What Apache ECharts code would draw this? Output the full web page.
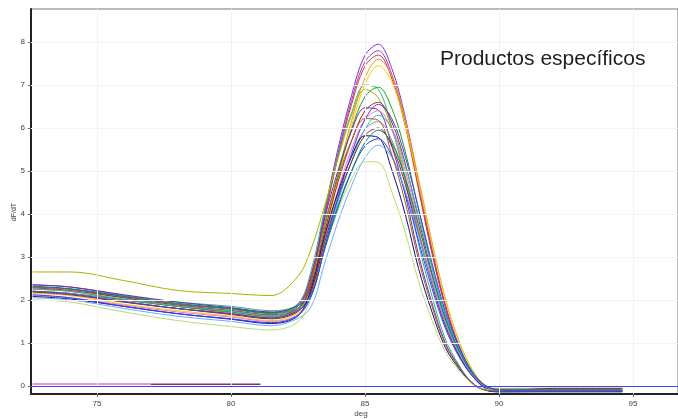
<!DOCTYPE html>
<html>
<head>
<meta charset="utf-8">
<script src="https://cdn.jsdelivr.net/npm/echarts@6/dist/echarts.min.js"></script>
<style>html,body{margin:0;padding:0;background:#fff;}#c{width:678px;height:419px;}</style>
</head>
<body>
<div id="c"></div>
<script>
var temps = [72.6, 74, 76, 78, 80, 81.5, 82.5, 83, 83.5, 84, 84.5, 85, 85.5, 86, 86.5, 87, 87.5, 88, 88.5, 89, 89.5, 90, 92, 94.6];
var xTicks = [75, 80, 85, 90, 95];
var yTicks = [0, 1, 2, 3, 4, 5, 6, 7, 8];

var s1 = [2.35, 2.3, 2.1, 1.9, 1.8, 1.7, 1.86, 2.56, 4.07, 5.53, 6.76, 7.69, 7.95, 7.39, 6.26, 4.73, 3.19, 1.89, 0.95, 0.32, -0.03, -0.1, -0.11, -0.12];
var s2 = [2.3, 2.25, 2.05, 1.85, 1.75, 1.65, 1.81, 2.49, 3.98, 5.42, 6.64, 7.54, 7.8, 7.25, 6.14, 4.64, 3.13, 1.85, 0.94, 0.31, -0.04, -0.08, -0.09, -0.09];
var s3 = [2.25, 2.2, 2.0, 1.85, 1.7, 1.6, 1.76, 2.44, 3.92, 5.34, 6.55, 7.44, 7.7, 7.16, 6.06, 4.57, 3.08, 1.83, 0.92, 0.31, -0.05, -0.12, -0.1, -0.1];
var s4 = [2.2, 2.15, 1.95, 1.8, 1.7, 1.6, 1.76, 2.18, 3.52, 4.93, 6.17, 7.17, 7.6, 7.22, 6.21, 4.82, 3.35, 2.03, 1.06, 0.38, 0.0, -0.1, -0.08, -0.08];
var s5 = [2.15, 2.1, 1.9, 1.75, 1.62, 1.52, 1.69, 2.11, 3.43, 4.82, 6.04, 7.02, 7.45, 7.08, 6.08, 4.72, 3.28, 1.99, 1.04, 0.37, 0.0, -0.06, -0.05, -0.05];
var s6 = [2.3, 2.25, 2.1, 1.95, 1.85, 1.75, 1.91, 2.7, 4.11, 5.34, 6.35, 7.0, 6.9, 6.02, 4.8, 3.3, 2.09, 1.09, 0.49, 0.07, -0.1, -0.12, -0.12, -0.12];
var s7 = [2.2, 2.15, 2.0, 1.85, 1.72, 1.62, 1.79, 2.37, 3.7, 4.94, 5.97, 6.73, 6.95, 6.46, 5.46, 4.11, 2.77, 1.64, 0.83, 0.28, -0.05, -0.1, -0.09, -0.09];
var s8 = [2.65, 2.65, 2.45, 2.22, 2.15, 2.1, 2.55, 3.2, 4.2, 5.3, 6.3, 6.9, 6.7, 6.0, 4.9, 3.6, 2.45, 1.45, 0.75, 0.25, -0.02, -0.08, -0.08, -0.08];
var s9 = [2.28, 2.22, 2.05, 1.88, 1.75, 1.65, 1.81, 2.35, 3.6, 4.75, 5.7, 6.4, 6.6, 6.14, 5.18, 3.89, 2.62, 1.55, 0.79, 0.26, -0.05, -0.12, -0.12, -0.12];
var s10 = [2.35, 2.3, 2.12, 1.95, 1.82, 1.72, 1.89, 2.6, 3.91, 5.02, 5.93, 6.47, 6.42, 5.59, 4.45, 3.05, 1.93, 1.0, 0.46, 0.07, -0.1, -0.13, -0.13, -0.13];
var s11 = [2.1, 2.05, 1.88, 1.72, 1.6, 1.5, 1.66, 2.19, 3.43, 4.57, 5.51, 6.2, 6.4, 5.95, 5.02, 3.77, 2.54, 1.5, 0.77, 0.26, -0.05, -0.08, -0.07, -0.07];
var s12 = [2.25, 2.2, 2.02, 1.86, 1.74, 1.64, 1.81, 2.13, 3.22, 4.3, 5.23, 5.97, 6.3, 5.99, 5.13, 3.96, 2.75, 1.66, 0.88, 0.32, 0.0, -0.1, -0.1, -0.1];
var s13 = [2.2, 2.15, 1.97, 1.8, 1.68, 1.58, 1.76, 2.25, 3.42, 4.48, 5.34, 5.97, 6.15, 5.72, 4.82, 3.61, 2.43, 1.44, 0.74, 0.25, -0.05, -0.1, -0.1, -0.1];
var s14 = [2.18, 2.12, 1.95, 1.8, 1.66, 1.56, 1.73, 2.21, 3.35, 4.38, 5.21, 5.83, 6.0, 5.58, 4.7, 3.52, 2.37, 1.4, 0.72, 0.24, -0.05, -0.12, -0.06, -0.06];
var s15 = [2.08, 2.02, 1.85, 1.68, 1.55, 1.45, 1.63, 2.28, 3.5, 4.52, 5.34, 5.82, 5.78, 5.03, 4.0, 2.73, 1.72, 0.89, 0.41, 0.06, -0.1, -0.14, -0.14, -0.14];
var s16 = [2.12, 2.05, 1.85, 1.68, 1.56, 1.47, 1.64, 2.1, 3.21, 4.2, 5.0, 5.58, 5.75, 5.35, 4.5, 3.37, 2.27, 1.34, 0.69, 0.23, -0.06, -0.14, -0.13, -0.13];
var s17 = [2.05, 2.0, 1.8, 1.62, 1.5, 1.4, 1.57, 1.85, 2.86, 3.83, 4.66, 5.31, 5.6, 5.32, 4.55, 3.5, 2.43, 1.47, 0.78, 0.28, -0.02, -0.1, -0.11, -0.11];
var s18 = [2.0, 1.95, 1.72, 1.52, 1.38, 1.3, 1.49, 2.07, 3.19, 4.09, 4.81, 5.22, 5.2, 4.52, 3.58, 2.43, 1.53, 0.79, 0.37, 0.05, -0.08, -0.1, -0.1, -0.1];
var s19 = [2.3, 2.25, 2.08, 1.9, 1.78, 1.68, 1.85, 2.53, 3.79, 4.85, 5.71, 6.22, 6.18, 5.38, 4.28, 2.93, 1.85, 0.96, 0.44, 0.06, -0.1, -0.12, -0.11, -0.11];
var s20 = [2.32, 2.26, 2.08, 1.92, 1.8, 1.7, 1.87, 2.15, 3.18, 4.16, 4.99, 5.66, 5.95, 5.65, 4.84, 3.73, 2.59, 1.57, 0.83, 0.3, 0.0, -0.08, -0.08, -0.08];
var s21 = [2.2, 2.14, 1.96, 1.8, 1.68, 1.58, 1.75, 2.09, 3.24, 4.4, 5.4, 6.2, 6.55, 6.22, 5.34, 4.12, 2.86, 1.73, 0.92, 0.33, 0.0, -0.1, -0.12, -0.12];

var flatPinkX = [72.6, 77.0];
var flatPink = [0.04, 0.04];
var flatPurpleX = [77.0, 81.1];
var flatPurple = [0.035, 0.035];

var curves = [s1, s2, s3, s4, s5, s6, s7, s8, s9, s10, s11, s12, s13, s14, s15, s16, s17, s18, s19, s20, s21];
var colors = ['#7b2fd0', '#9040c0', '#e03030', '#ff9020', '#f0d000', '#30b090', '#20a020', '#a8b400', '#c02020', '#7030a0', '#ff70c0', '#20c0d0', '#909090', '#902020', '#101080', '#2040ff', '#70a8ff', '#b8dc70', '#a06030', '#008080', '#4040e0'];

function pairs(xs, ys) { return xs.map(function (x, i) { return [x, ys[i]]; }); }

var series = curves.map(function (vals, i) {
  return {
    type: 'line', data: pairs(temps, vals), smooth: 0.35,
    showSymbol: false, silent: true, z: 3,
    lineStyle: { width: 1, color: colors[i] }
  };
});
series.push({
  type: 'line', data: pairs(flatPinkX, flatPink), showSymbol: false, silent: true, z: 3,
  lineStyle: { width: 1.5, color: '#e070d0' }
});
series.push({
  type: 'line', data: pairs(flatPurpleX, flatPurple), showSymbol: false, silent: true, z: 3,
  lineStyle: { width: 1.5, color: '#803080' },
  markLine: {
    silent: true, symbol: 'none', label: { show: false },
    data: xTicks.map(function (v) { return { xAxis: v, lineStyle: { color: '#f2f2f2', width: 1, type: 'solid' } }; })
      .concat(yTicks.slice(1).map(function (v) { return { yAxis: v, lineStyle: { color: '#f4f4f4', width: 1, type: 'solid' } }; }))
  },
  z: 1
});
series.push({
  type: 'line', data: [], showSymbol: false, silent: true, z: 5,
  markLine: {
    silent: true, symbol: 'none', label: { show: false }, z: 5,
    data: [{ yAxis: 0, lineStyle: { color: '#4040ff', width: 1, type: 'solid' } }]
  }
});

var chart = echarts.init(document.getElementById('c'), null, { renderer: 'canvas' });
chart.setOption({
  animation: false,
  backgroundColor: '#ffffff',
  grid: { left: 31, right: 0, top: 9, bottom: 25, show: true, borderColor: '#777', borderWidth: 1, backgroundColor: 'transparent' },
  xAxis: {
    type: 'value', min: 72.54, max: 96.68,
    axisLine: { show: true, onZero: false, lineStyle: { color: '#222', width: 2 } },
    axisTick: { show: true, customValues: xTicks, length: 3, lineStyle: { color: '#666' } },
    axisLabel: { customValues: xTicks, color: '#444', fontSize: 8, fontFamily: 'Liberation Sans', margin: 6 },
    splitLine: { show: false }
  },
  yAxis: {
    type: 'value', min: -0.19, max: 8.77,
    axisLine: { show: true, onZero: false, lineStyle: { color: '#222', width: 2 } },
    axisTick: { show: true, customValues: yTicks, length: 3, lineStyle: { color: '#666' } },
    axisLabel: { customValues: yTicks, color: '#444', fontSize: 8, fontFamily: 'Liberation Sans', margin: 6 },
    splitLine: { show: false }
  },
  graphic: [
    { type: 'text', left: 440, top: 49, z: 10, style: { text: 'Productos específicos', font: '21px "Liberation Sans", Arial, sans-serif', fill: '#1e1e1e' } },
    { type: 'text', x: 361, y: 414, z: 10, style: { text: 'deg', font: '8px "Liberation Sans", Arial, sans-serif', fill: '#444', align: 'center', verticalAlign: 'middle' } },
    { type: 'text', x: 14, y: 212, rotation: Math.PI / 2, z: 10, style: { text: 'dF/dT', font: '7px "Liberation Sans", Arial, sans-serif', fill: '#444', align: 'center', verticalAlign: 'middle' } }
  ],
  series: series
});
</script>
</body>
</html>
